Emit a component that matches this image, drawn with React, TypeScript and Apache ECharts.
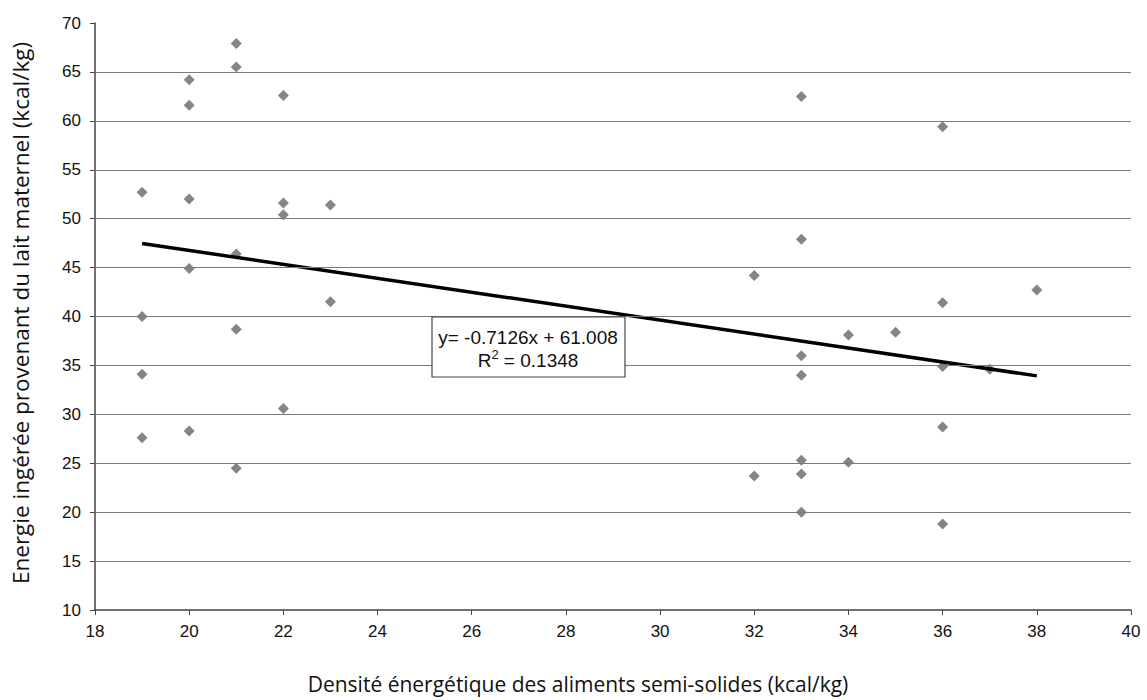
import React, { useEffect, useRef } from "react";
import * as echarts from "echarts";

const xValues = [
  19, 19, 19, 19,
  20, 20, 20, 20, 20,
  21, 21, 21, 21, 21,
  22, 22, 22, 22,
  23, 23,
  32, 32,
  33, 33, 33, 33, 33, 33, 33,
  34, 34,
  35,
  36, 36, 36, 36, 36,
  37,
  38,
];
const yValues = [
  52.7, 40.0, 34.1, 27.6,
  64.2, 61.6, 52.0, 44.9, 28.3,
  67.9, 65.5, 46.4, 38.7, 24.5,
  62.6, 51.6, 50.4, 30.6,
  51.4, 41.5,
  44.2, 23.7,
  62.5, 47.9, 36.0, 34.0, 25.3, 23.9, 20.0,
  38.1, 25.1,
  38.4,
  59.4, 41.4, 34.9, 28.7, 18.8,
  34.6,
  42.7,
];
const gridValues = [15, 20, 25, 30, 35, 40, 45, 50, 55, 60, 65];
const trendSlope = -0.7126;
const trendIntercept = 61.008;
const trendRange = [19, 38];
const equationText = "y= -0.7126x + 61.008";
const r2Value = "0.1348";
const xTitle = "Densité énergétique des aliments semi-solides (kcal/kg)";
const yTitle = "Energie ingérée provenant du lait maternel (kcal/kg)";

export default function App() {
  const ref = useRef<HTMLDivElement>(null);
  useEffect(() => {
    document.body.style.margin = "0";
    const chart = echarts.init(ref.current!, null, { renderer: "svg" });
    const points = xValues.map((x, i) => [x, yValues[i]]);
    const trend = trendRange.map((x) => [x, trendSlope * x + trendIntercept]);
    const arial = "Liberation Sans, Arial, sans-serif";
    const tickFont = { fontFamily: arial, fontSize: 17, color: "#111" };
    chart.setOption({
      animation: false,
      backgroundColor: "#fff",
      grid: { left: 95, right: 16, top: 23, bottom: 90 },
      xAxis: {
        type: "value",
        min: 18,
        max: 40,
        interval: 2,
        axisLine: { lineStyle: { color: "#444", width: 1.5 } },
        axisTick: { show: true, length: 5, lineStyle: { color: "#444" } },
        axisLabel: { ...tickFont, margin: 13 },
        splitLine: { show: false },
      },
      yAxis: {
        type: "value",
        min: 10,
        max: 70,
        interval: 5,
        axisLine: { show: true, lineStyle: { color: "#444", width: 1.5 } },
        axisTick: { show: true, length: 5, lineStyle: { color: "#444" } },
        axisLabel: { ...tickFont, margin: 14 },
        splitLine: { show: false },
      },
      series: [
        {
          type: "line",
          data: [],
          silent: true,
          markLine: {
            silent: true,
            symbol: "none",
            label: { show: false },
            lineStyle: { color: "#7a7a7a", width: 1.2, type: "solid" },
            data: gridValues.map((v) => ({ yAxis: v })),
          },
        },
        {
          type: "scatter",
          data: points,
          symbol: "diamond",
          symbolSize: 11,
          itemStyle: { color: "#666" },
          z: 3,
        },
        {
          type: "line",
          data: trend,
          symbol: "none",
          lineStyle: { color: "#000", width: 3.5 },
          z: 4,
        },
      ],
      graphic: [
        {
          type: "text",
          x: 578,
          y: 684,
          style: {
            text: xTitle,
            fontFamily: "Open Sans",
            fontSize: 21,
            fill: "#111",
            align: "center",
            verticalAlign: "middle",
          },
        },
        {
          type: "text",
          x: 20,
          y: 313,
          rotation: Math.PI / 2,
          style: {
            text: yTitle,
            fontFamily: "Open Sans",
            fontSize: 22.5,
            fill: "#111",
            align: "center",
            verticalAlign: "middle",
          },
        },
        {
          type: "rect",
          shape: { x: 432, y: 317, width: 193, height: 60 },
          style: { fill: "#fff", stroke: "#444", lineWidth: 1.2 },
          z: 10,
        },
        {
          type: "text",
          x: 528,
          y: 337,
          style: {
            text: equationText,
            fontFamily: arial,
            fontSize: 19,
            fill: "#111",
            align: "center",
            verticalAlign: "middle",
          },
          z: 11,
        },
        {
          type: "text",
          x: 528,
          y: 359,
          style: {
            text: "{n|R}{s|2}{n| = " + r2Value + "}",
            rich: {
              n: { fontFamily: arial, fontSize: 19, fill: "#111", verticalAlign: "bottom" },
              s: { fontFamily: arial, fontSize: 13, fill: "#111", verticalAlign: "top", padding: [0, 0, 9, 0] },
            },
            align: "center",
            verticalAlign: "middle",
          },
          z: 11,
        },
      ],
    });
    return () => chart.dispose();
  }, []);
  return <div ref={ref} style={{ width: 1147, height: 700 }} />;
}
